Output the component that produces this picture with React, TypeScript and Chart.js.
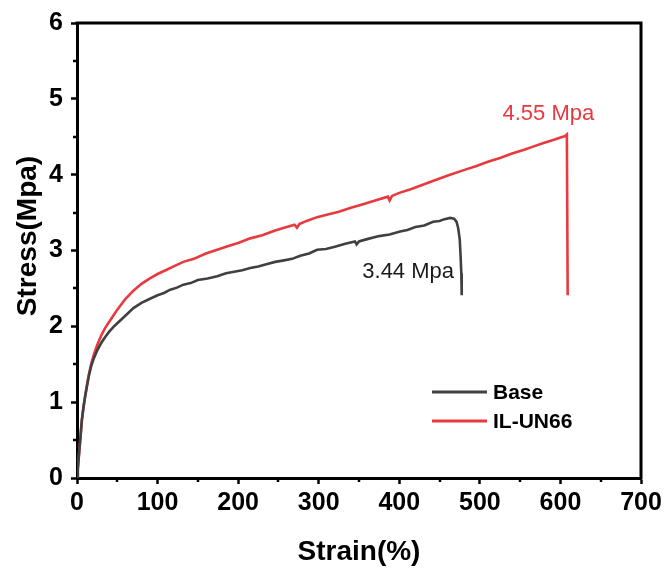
import React, { useEffect, useRef } from "react";
import { Chart, registerables } from "chart.js";

Chart.register(...registerables);

const FONT = "'Liberation Sans', Arial, sans-serif";

// Base series (strain %, stress MPa)
const baseStrain = [0, 1, 2, 3, 4, 6, 8, 10, 12, 15, 18, 21, 25, 30, 35, 40, 45, 50, 60, 70, 80, 90, 100, 108, 115, 124, 132, 141, 150, 162, 174, 185, 195, 205, 215, 225, 235, 246, 257, 267, 277, 288, 298, 309, 320, 333, 345, 347, 350, 360, 375, 388, 401, 410, 420, 431, 442, 450, 455, 463, 468, 471, 473, 475, 476, 477, 477.5];
const baseStress = [0, 0.12, 0.25, 0.38, 0.5, 0.76, 0.93, 1.07, 1.19, 1.36, 1.49, 1.58, 1.68, 1.78, 1.86, 1.93, 1.99, 2.04, 2.14, 2.24, 2.31, 2.36, 2.41, 2.44, 2.48, 2.51, 2.55, 2.57, 2.61, 2.63, 2.66, 2.70, 2.72, 2.74, 2.77, 2.79, 2.82, 2.85, 2.87, 2.89, 2.93, 2.96, 3.01, 3.02, 3.05, 3.09, 3.12, 3.08, 3.12, 3.15, 3.19, 3.21, 3.25, 3.27, 3.31, 3.33, 3.38, 3.39, 3.41, 3.43, 3.42, 3.38, 3.30, 3.15, 2.95, 2.70, 2.41];

// IL-UN66 series
const ilStrain = [0, 1, 2, 3, 4, 6, 8, 10, 12, 15, 18, 21, 25, 30, 35, 40, 45, 50, 60, 70, 80, 90, 100, 110, 120, 132, 145, 160, 174, 188, 200, 215, 230, 245, 257, 270, 273, 276, 285, 298, 310, 325, 339, 355, 370, 386, 388, 391, 400, 415, 430, 445, 463, 480, 495, 510, 525, 540, 555, 566, 580, 592, 600, 606, 608, 609];
const ilStress = [0, 0.12, 0.25, 0.38, 0.5, 0.76, 0.93, 1.07, 1.2, 1.38, 1.52, 1.63, 1.75, 1.88, 1.98, 2.06, 2.14, 2.22, 2.36, 2.47, 2.56, 2.63, 2.69, 2.74, 2.79, 2.85, 2.89, 2.96, 3.01, 3.06, 3.10, 3.16, 3.20, 3.26, 3.30, 3.34, 3.30, 3.35, 3.39, 3.44, 3.47, 3.51, 3.56, 3.61, 3.66, 3.71, 3.66, 3.72, 3.76, 3.81, 3.87, 3.93, 4.00, 4.06, 4.11, 4.17, 4.22, 4.28, 4.33, 4.37, 4.42, 4.46, 4.49, 4.51, 4.53, 2.41];

const seriesNames = ["Base", "IL-UN66"];
const seriesColors = ["#404040", "#e8393e"];

const xTicks = [0, 100, 200, 300, 400, 500, 600, 700];
const yTicks = [0, 1, 2, 3, 4, 5, 6];
const xMinor = [50, 150, 250, 350, 450, 550, 650];
const yMinor = [0.5, 1.5, 2.5, 3.5, 4.5, 5.5];

const peakLabels = ["3.44 Mpa", "4.55 Mpa"];
const peakLabelX = [411, 585];
const peakLabelY = [2.72, 4.8];

const xTitle = "Strain(%)";
const yTitle = "Stress(Mpa)";

const decor = {
  id: "decor",
  afterDraw(chart: any) {
    const { ctx, chartArea, scales } = chart;
    const { left, right, top, bottom } = chartArea;
    const x = scales.x;
    const y = scales.y;
    ctx.save();
    // frame top & right
    ctx.strokeStyle = "#000";
    ctx.lineWidth = 3;
    ctx.beginPath();
    ctx.moveTo(left - 1.5, top);
    ctx.lineTo(right, top);
    ctx.lineTo(right, bottom + 1.5);
    ctx.stroke();
    // minor ticks
    ctx.lineWidth = 2.5;
    ctx.beginPath();
    for (const v of xMinor) {
      const px = Math.round(x.getPixelForValue(v));
      ctx.moveTo(px, bottom);
      ctx.lineTo(px, bottom + 4);
    }
    for (const v of yMinor) {
      const py = Math.round(y.getPixelForValue(v));
      ctx.moveTo(left, py);
      ctx.lineTo(left - 4, py);
    }
    ctx.stroke();

    // peak labels
    ctx.font = `22px ${FONT}`;
    ctx.textAlign = "center";
    ctx.textBaseline = "middle";
    ctx.fillStyle = "#1a1a1a";
    ctx.fillText(peakLabels[0], x.getPixelForValue(peakLabelX[0]), y.getPixelForValue(peakLabelY[0]));
    ctx.fillStyle = seriesColors[1];
    ctx.fillText(peakLabels[1], x.getPixelForValue(peakLabelX[1]), y.getPixelForValue(peakLabelY[1]));

    // legend
    const lx0 = left + 355;
    const ly0 = top + 369;
    ctx.font = `bold 21px ${FONT}`;
    ctx.textAlign = "left";
    seriesNames.forEach((name, i) => {
      const ly = ly0 + i * 29;
      ctx.strokeStyle = seriesColors[i];
      ctx.lineWidth = 3;
      ctx.beginPath();
      ctx.moveTo(lx0, ly);
      ctx.lineTo(lx0 + 55, ly);
      ctx.stroke();
      ctx.fillStyle = "#000";
      ctx.fillText(name, lx0 + 61, ly + 1);
    });

    // y title
    ctx.save();
    ctx.translate(28, 236);
    ctx.rotate(-Math.PI / 2);
    ctx.font = `bold 28px ${FONT}`;
    ctx.textAlign = "center";
    ctx.textBaseline = "middle";
    ctx.fillStyle = "#000";
    ctx.fillText(yTitle, 0, 0);
    ctx.restore();

    ctx.restore();
  },
};

export default function App() {
  const ref = useRef<HTMLCanvasElement | null>(null);
  useEffect(() => {
    document.body.style.margin = "0";
    const canvas = ref.current!;
    const chart = new Chart(canvas, {
      type: "line",
      data: {
        datasets: [
          {
            label: seriesNames[0],
            data: baseStrain.map((v, i) => ({ x: v, y: baseStress[i] })),
            borderColor: seriesColors[0],
            borderWidth: 2.6,
            pointRadius: 0,
            tension: 0,
          },
          {
            label: seriesNames[1],
            data: ilStrain.map((v, i) => ({ x: v, y: ilStress[i] })),
            borderColor: seriesColors[1],
            borderWidth: 2.6,
            pointRadius: 0,
            tension: 0,
          },
        ],
      },
      options: {
        animation: false,
        responsive: false,
        layout: { padding: { top: 23, right: 28, left: 0, bottom: 0 } },
        plugins: { legend: { display: false }, tooltip: { enabled: false } },
        scales: {
          x: {
            type: "linear",
            min: 0,
            max: 700,
            afterBuildTicks: (s: any) => {
              s.ticks = xTicks.map((v) => ({ value: v }));
            },
            afterFit: (s: any) => {
              s.height = 94;
            },
            ticks: {
              font: { family: FONT, size: 25, weight: "bold" },
              color: "#000",
              padding: 4,
              maxRotation: 0,
            },
            grid: {
              drawOnChartArea: false,
              drawTicks: true,
              tickLength: 6,
              tickWidth: 2.5,
              tickColor: "#000",
            },
            border: { display: true, color: "#000", width: 3 },
            title: {
              display: true,
              text: xTitle,
              font: { family: FONT, size: 28, weight: "bold" },
              color: "#000",
              padding: { top: 0, bottom: 3 },
            },
          },
          y: {
            type: "linear",
            min: 0,
            max: 6,
            afterBuildTicks: (s: any) => {
              s.ticks = yTicks.map((v) => ({ value: v }));
            },
            afterFit: (s: any) => {
              s.width = 77;
            },
            ticks: {
              font: { family: FONT, size: 25, weight: "bold" },
              color: "#000",
              padding: 8,
            },
            grid: {
              drawOnChartArea: false,
              drawTicks: true,
              tickLength: 6,
              tickWidth: 2.5,
              tickColor: "#000",
            },
            border: { display: true, color: "#000", width: 3 },
          },
        },
      },
      plugins: [decor],
    } as any);
    return () => chart.destroy();
  }, []);
  return (
    <div style={{ width: 669, height: 572, background: "#fff" }}>
      <canvas ref={ref} width={669} height={572} style={{ display: "block" }} />
    </div>
  );
}
